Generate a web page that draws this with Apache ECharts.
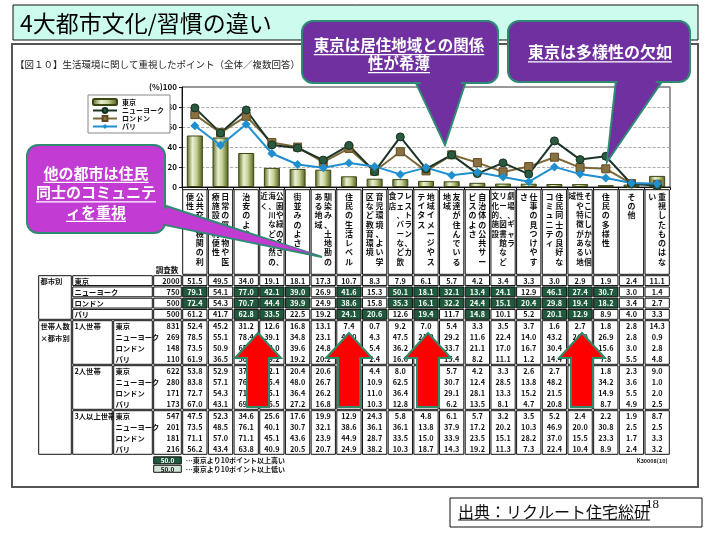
<!DOCTYPE html>
<html><head><meta charset="utf-8">
<script src="https://cdn.jsdelivr.net/npm/echarts@6/dist/echarts.min.js"></script>
<style>html,body{margin:0;padding:0;background:#fff}#c{width:720px;height:540px}</style>
</head><body><div id="c"></div>
<script>
// ---------- data ----------
const headerSegments = [
  ['公共交通機関の利','便性'],
  ['日常の買い物や医','療施設の利便性'],
  ['治安のよさ'],
  ['公園や緑の多さ、','海、川など自然の','近く'],
  ['街並みのよさ'],
  ['馴染み、土地勘の','ある地域'],
  ['住民の生活レベル'],
  ['育児環境、よい学','区など教育環境'],
  ['レストラン、カ','フェ、バーなど飲','食店'],
  ['地域イメージやス','テイタス'],
  ['友達が住んでいる','地域'],
  ['自治体の公共サー','ビスのよさ'],
  ['劇場、ギャラ','リー、図書館など','文化的施設'],
  ['仕事の見つけやす','さ'],
  ['住民同士の良好な','コミュニティ'],
  ['そこにしかない個','性や特徴がある地','域'],
  ['住民の多様性'],
  ['その他'],
  ['重視したものはな','い']
];
const categories = headerSegments.map(s => s.join(''));
const cities = ['東京','ニューヨーク','ロンドン','パリ'];
const citySamples = [2000, 750, 500, 500];
const tokyo   = [51.5,49.5,34.0,19.1,18.1,17.3,10.7,8.3,7.9,6.1,5.7,4.2,3.4,3.3,3.0,2.9,1.9,2.4,11.1];
const newYork = [79.1,54.1,77.0,42.1,39.0,26.9,41.6,15.3,50.1,18.1,32.1,13.4,24.1,12.9,46.1,27.4,30.7,3.0,1.4];
const london  = [72.4,54.3,70.7,44.4,39.9,24.9,38.6,15.8,35.3,16.1,32.2,24.4,15.1,20.4,29.8,19.4,18.2,3.4,2.7];
const paris   = [61.2,41.7,62.8,33.5,22.5,19.2,24.1,20.6,12.6,19.4,11.7,14.8,10.1,5.2,20.1,12.9,8.9,4.0,3.3];
// 1 = 東京より10ポイント以上高い
const highNewYork = [1,0,1,1,1,0,1,0,1,1,1,1,1,0,1,1,1,0,0];
const highLondon  = [1,0,1,1,1,0,1,0,1,1,1,1,1,1,1,1,1,0,0];
const highParis   = [0,0,1,1,0,0,1,1,0,1,0,1,0,0,1,1,0,0,0];

const householdGroups = ['1人世帯','2人世帯','3人以上世帯'];
const householdSamples = [[831,269,148,110],[622,280,171,173],[547,201,181,216]];
const oneTokyo   = [52.4,45.2,31.2,12.6,16.8,13.1,7.4,0.7,9.2,7.0,5.4,3.3,3.5,3.7,1.6,2.7,1.8,2.8,14.3];
const oneNewYork = [78.5,55.1,78.4,39.1,34.8,23.1,41.0,4.3,47.5,21.0,29.2,11.6,22.4,14.0,43.2,24.0,26.9,2.8,0.9];
const oneLondon  = [73.5,50.9,65.0,43.0,39.6,24.8,36.0,5.4,36.2,14.0,33.7,21.1,17.0,16.7,30.4,17.0,15.6,3.0,2.8];
const oneParis   = [61.9,36.5,50.0,29.2,19.2,20.2,20.0,2.4,16.6,17.0,15.4,8.2,11.1,1.2,14.4,12.0,7.8,5.5,4.8];
const twoTokyo   = [53.8,52.9,37.0,22.1,20.4,20.6,11.0,4.4,8.0,7.0,5.7,4.2,3.3,2.6,2.7,3.0,1.8,2.3,9.0];
const twoNewYork = [83.8,57.1,76.0,45.4,48.0,26.7,42.0,10.9,62.5,17.0,30.7,12.4,28.5,13.8,48.2,30.0,34.2,3.6,1.0];
const twoLondon  = [72.7,54.3,71.0,45.1,36.4,26.2,40.0,11.0,36.4,17.0,29.1,28.1,13.3,15.2,21.5,20.0,14.9,5.5,2.0];
const twoParis   = [67.0,43.1,69.0,36.5,27.2,16.8,23.0,10.3,12.8,20.0,6.2,13.5,8.1,4.7,20.8,10.4,8.7,4.9,2.5];
const threeTokyo   = [47.5,52.3,34.6,25.6,17.6,19.9,12.9,24.3,5.8,4.8,6.1,5.7,3.2,3.5,5.2,2.4,2.2,1.9,8.7];
const threeNewYork = [73.5,48.5,76.1,40.1,30.7,32.1,38.6,36.1,36.1,13.8,37.9,17.2,20.2,10.3,46.9,20.0,30.8,2.5,2.5];
const threeLondon  = [71.1,57.0,71.1,45.1,43.6,23.9,44.9,28.7,33.5,15.0,33.9,23.5,15.1,28.2,37.0,15.5,23.3,1.7,3.3];
const threeParis   = [56.2,43.4,63.8,40.9,20.5,20.7,24.9,38.2,10.3,18.7,14.3,19.2,11.3,7.3,22.4,10.4,8.9,2.4,3.2];
const yTicks = [0,20,40,60,80,100];

// ---------- build ----------
const FONT = '"Noto Sans CJK JP","Noto Sans",sans-serif';
const GREEN = '#1e5a3b';
const cityValues = [tokyo, newYork, london, paris];
const cityHigh = [null, highNewYork, highLondon, highParis];
const householdValues = [
  [oneTokyo, oneNewYork, oneLondon, oneParis],
  [twoTokyo, twoNewYork, twoLondon, twoParis],
  [threeTokyo, threeNewYork, threeLondon, threeParis]
];
const colPx = 488 / 19;
const L = {A: -144/colPx, B: -110/colPx, C: -69/colPx, D: -29/colPx};
const HDR = -86 / 11.25;
const cells = [];
headerSegments.forEach((segs, i) => cells.push({x0:i, x1:i+1, y0:HDR, y1:0, box:true, vtext:segs}));
cells.push({x0:L.D-0.4, x1:-0.05, y0:-0.9, y1:-0.05, text:'調査数', align:'right', size:7.5});
cities.forEach((name, r) => {
  cells.push({x0:L.B, x1:L.D, y0:r, y1:r+1, box:true, text:name, align:'left'});
  cells.push({x0:L.D, x1:0, y0:r, y1:r+1, box:true, text:String(citySamples[r]), align:'right'});
  cityValues[r].forEach((v, i) => {
    const hi = r > 0 && cityHigh[r][i];
    cells.push({x0:i, x1:i+1, y0:r, y1:r+1, box:true, fill: hi ? GREEN : '#fff', color: hi ? '#fff' : '#111', text:v.toFixed(1)});
  });
});
cells.push({x0:L.A, x1:L.B, y0:0, y1:4, box:true, text:'都市別', align:'left', valign:'top'});
cells.push({x0:L.A, x1:L.B, y0:4, y1:16, box:true, text:'世帯人数\n×都市別', align:'left', valign:'top'});
householdGroups.forEach((g, gi) => {
  const y0 = 4 + gi*4;
  cells.push({x0:L.B, x1:L.C, y0, y1:y0+4, box:true, text:g, align:'left', valign:'top'});
  cells.push({x0:L.C, x1:L.D, y0, y1:y0+4, box:true});
  cells.push({x0:L.D, x1:0, y0, y1:y0+4, box:true});
  for (let i = 0; i < 19; i++) cells.push({x0:i, x1:i+1, y0, y1:y0+4, box:true});
  cities.forEach((name, r) => {
    cells.push({x0:L.C, x1:L.D, y0:y0+r, y1:y0+r+1, text:name, align:'left'});
    cells.push({x0:L.D, x1:0, y0:y0+r, y1:y0+r+1, text:String(householdSamples[gi][r]), align:'right'});
    householdValues[gi][r].forEach((v, i) => cells.push({x0:i, x1:i+1, y0:y0+r, y1:y0+r+1, text:v.toFixed(1)}));
  });
});
cells.push({x0:L.D, x1:0, y0:16.1, y1:16.85, box:true, fill:GREEN, color:'#fff', text:'50.0', align:'center', size:6.5});
cells.push({x0:L.D, x1:0, y0:16.85, y1:17.6, box:true, fill:'#d2e6d8', text:'50.0', align:'center', size:6.5});
cells.push({x0:0.05, x1:9, y0:16.1, y1:16.85, text:'…東京より10ポイント以上高い', align:'left', size:7});
cells.push({x0:0.05, x1:9, y0:16.85, y1:17.6, text:'…東京より10ポイント以上低い', align:'left', size:7});
cells.push({x0:16, x1:19, y0:16.1, y1:16.85, text:'K30008(10)', align:'right', size:5.5});

function txt(text, x, y, size, color, align, valign, weight, lh) {
  return {type:'text', style:{text, x, y, fill:color, font:`${weight||'bold'} ${size}px ${FONT}`,
    align, textAlign:align, verticalAlign:valign, textVerticalAlign:valign, lineHeight:lh||size*1.3}};
}
function renderTable(params, api) {
  const c = cells[params.dataIndex];
  const p0 = api.coord([c.x0, c.y0]);
  const p1 = api.coord([c.x1, c.y1]);
  const x = p0[0], y = p0[1], w = p1[0] - p0[0], h = p1[1] - p0[1];
  const ch = [];
  if (c.box) ch.push({type:'rect', shape:{x:x+0.7, y:y+0.7, width:w-1.4, height:h-1.4},
    style:{fill:c.fill || '#fff', stroke:'#111', lineWidth:1}});
  if (c.vtext) {
    const n = c.vtext.length;
    const sp = n >= 3 ? 7.9 : 9.6;
    const fs = n >= 3 ? 7.5 : 8;
    c.vtext.forEach((s, j) => {
      const cx = x + w/2 + ((n-1)/2 - j) * sp;
      ch.push(txt(s.split('').join('\n'), cx, y + 3, fs, '#111', 'center', 'top', 'bold', 9.3));
    });
  }
  if (c.text) {
    const size = c.size || 7.3;
    const color = c.color || '#111';
    const align = c.align || 'center';
    let tx = align === 'left' ? x + 2.5 : align === 'right' ? x + w - 2.5 : x + w/2;
    if (c.valign === 'top') ch.push(txt(c.text, tx, y + 1, size, color, align, 'top', 'bold', 11.3));
    else ch.push(txt(c.text, tx, y + h/2 + 0.3, size, color, align, 'middle', 'bold'));
  }
  return {type:'group', children:ch};
}

// ---------- annotations ----------
const mctx = document.createElement('canvas').getContext('2d');
function measure(t, font) { mctx.font = font; return mctx.measureText(t).width; }
const EDGE = '#2f8a74';
function callout(box, tail, inner, fill, lines, fs, lh, cx, y0) {
  const els = [];
  els.push({type:'polygon', z:50, shape:{points:tail}, style:{fill, stroke:EDGE, lineWidth:2}});
  els.push({type:'rect', z:51, shape:{x:box[0], y:box[1], width:box[2], height:box[3], r:11}, style:{fill, stroke:EDGE, lineWidth:2}});
  els.push({type:'polygon', z:52, shape:{points:inner}, style:{fill}});
  lines.forEach((t, i) => {
    const y = y0 + i*lh;
    const font = `bold ${fs}px ${FONT}`;
    els.push({type:'text', z:53, style:{text:t, x:cx, y, fill:'#fff', font, align:'center', textAlign:'center', verticalAlign:'middle', textVerticalAlign:'middle'}});
    const w = measure(t, font);
    els.push({type:'line', z:53, shape:{x1:cx-w/2, y1:y+fs*0.62, x2:cx+w/2, y2:y+fs*0.62}, style:{stroke:'#fff', lineWidth:1.3}});
  });
  return els;
}
function upArrow(cx) {
  return {type:'polygon', z:45, shape:{points:[[cx,333],[cx+23,358],[cx+11,358],[cx+11,407],[cx-11,407],[cx-11,358],[cx-23,358]]},
    style:{fill:'#ff0000', stroke:'#2e8a68', lineWidth:2}};
}
const graphics = [
  {type:'rect', z:-5, shape:{x:13, y:5, width:685, height:35}, style:{fill:'#cbfcee', stroke:'#111', lineWidth:1}},
  {type:'text', z:1, style:{text:'4大都市文化/習慣の違い', x:20, y:23, fill:'#000', font:`23px ${FONT}`, verticalAlign:'middle', textVerticalAlign:'middle'}},
  {type:'rect', z:-5, shape:{x:12, y:44, width:686, height:443}, style:{fill:'none', stroke:'#555', lineWidth:2}},
  {type:'text', z:1, style:{text:'【図１０】生活環境に関して重視したポイント（全体／複数回答）', x:15, y:64, fill:'#222', font:`9.5px ${FONT}`, verticalAlign:'middle', textVerticalAlign:'middle'}},
  upArrow(258), upArrow(349), upArrow(428), upArrow(582),
  ...callout([27,145,138,88], [[160,204],[160,224],[322,257]], [[155,206],[155,222],[318,255]], '#c23bd2',
     ['他の都市は住民','同士のコミュニテ','ィを重視'], 15, 19.5, 96, 173),
  ...callout([302,21,196,62], [[415,81],[466,81],[445,145]], [[418,76],[463,76],[445,141]], '#7030a0',
     ['東京は居住地域との関係','性が希薄'], 15.5, 18, 399, 45),
  ...callout([508,21,182,61], [[616,80],[663,80],[607,162]], [[619,75],[660,75],[608,158]], '#7030a0',
     ['東京は多様性の欠如'], 16, 18, 600, 52),
  {type:'rect', z:1, shape:{x:450, y:498, width:252, height:29}, style:{fill:'#fff', stroke:'#111', lineWidth:1}},
  {type:'text', z:2, style:{text:'出典：リクルート住宅総研', x:458, y:512, fill:'#111', font:`16px ${FONT}`, verticalAlign:'middle', textVerticalAlign:'middle'}},
  {type:'line', z:2, shape:{x1:458, y1:520, x2:650, y2:520}, style:{stroke:'#111', lineWidth:1}},
  {type:'text', z:3, style:{text:'18', x:646, y:505, fill:'#111', font:'13px "Liberation Serif",serif', verticalAlign:'middle', textVerticalAlign:'middle'}}
];

// ---------- chart ----------
const chart = echarts.init(document.getElementById('c'), null, {renderer:'canvas'});
const barColor = {type:'linear', x:0, y:0, x2:1, y2:0, colorStops:[
  {offset:0, color:'#55661c'}, {offset:0.35, color:'#eaefd2'}, {offset:0.6, color:'#c6d196'}, {offset:1, color:'#4c5c16'}]};
chart.setOption({
  animation:false,
  backgroundColor:'#fff',
  textStyle:{fontFamily:FONT},
  legend:{
    data:['東京','ニューヨーク','ロンドン','パリ'], orient:'vertical', left:88, top:95,
    itemWidth:24, itemHeight:6, itemGap:1, padding:[3,6,3,4], borderColor:'#888', borderWidth:1,
    backgroundColor:'#fff', textStyle:{fontSize:7, fontWeight:'bold', color:'#111'}
  },
  grid:[
    {left:182, top:87, width:488, height:100, show:true, borderColor:'#333', borderWidth:1, backgroundColor:'#fff'},
    {left:182, top:275, width:488, height:180}
  ],
  xAxis:[
    {type:'category', gridIndex:0, data:categories, axisLabel:{show:false, interval:0},
     axisLine:{lineStyle:{color:'#111', width:1}}, axisTick:{show:true, interval:0, length:3, lineStyle:{color:'#111'}}},
    {type:'value', gridIndex:1, min:0, max:19, show:false}
  ],
  yAxis:[
    {type:'value', gridIndex:0, min:yTicks[0], max:yTicks[yTicks.length-1], interval:20,
     axisLine:{show:true, lineStyle:{color:'#111'}}, axisTick:{show:true, length:3, lineStyle:{color:'#111'}},
     axisLabel:{fontSize:8, fontWeight:'bold', color:'#111', margin:5, formatter:v => v === 100 ? '(%)100' : String(v)},
     splitLine:{lineStyle:{color:'#999', type:'dashed', width:0.8}}},
    {type:'value', gridIndex:1, min:0, max:16, inverse:true, show:false}
  ],
  series:[
    {name:'東京', type:'bar', xAxisIndex:0, yAxisIndex:0, data:tokyo, barWidth:16,
     itemStyle:{color:barColor, borderColor:'#3c4812', borderWidth:1}},
    {name:'ロンドン', type:'line', xAxisIndex:0, yAxisIndex:0, data:london, symbol:'rect', symbolSize:8,
     lineStyle:{color:'#7d6838', width:2}, itemStyle:{color:'#8a7142', borderColor:'#5e4a22', borderWidth:1}},
    {name:'ニューヨーク', type:'line', xAxisIndex:0, yAxisIndex:0, data:newYork, symbol:'circle', symbolSize:8,
     lineStyle:{color:'#1c3527', width:2}, itemStyle:{color:'#2a5a40', borderColor:'#15301f', borderWidth:1}},
    {name:'パリ', type:'line', xAxisIndex:0, yAxisIndex:0, data:paris, symbol:'diamond', symbolSize:9,
     lineStyle:{color:'#1f8fcf', width:2}, itemStyle:{color:'#1f8fcf'}},
    {type:'custom', xAxisIndex:1, yAxisIndex:1, coordinateSystem:'cartesian2d', clip:false, silent:true, z:3,
     data:cells.map(c => [c.x0, c.y0]), renderItem:renderTable}
  ],
  graphic:{elements:graphics}
});
</script>
</body></html>
